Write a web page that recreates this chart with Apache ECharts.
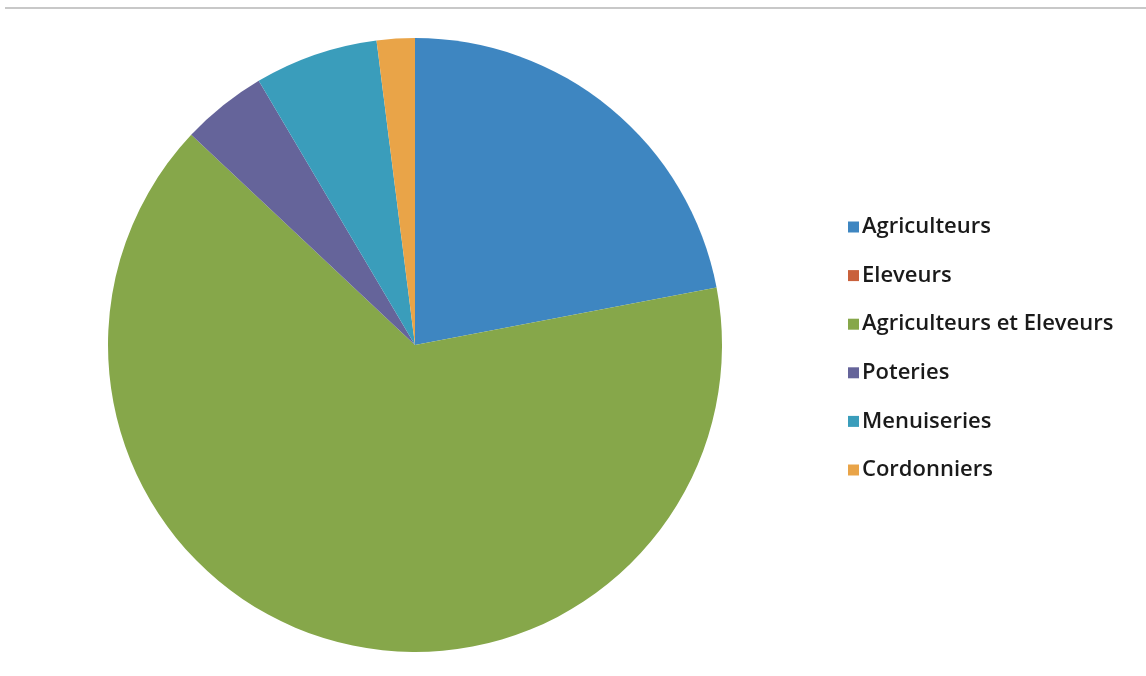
<!DOCTYPE html>
<html>
<head>
<meta charset="utf-8">
<script src="https://cdn.jsdelivr.net/npm/echarts@6/dist/echarts.min.js"></script>
<style>html,body{margin:0;padding:0;background:#fff;}#c{width:1146px;height:676px;}</style>
</head>
<body>
<div id="c"></div>
<script>
const categories = ['Agriculteurs', 'Eleveurs', 'Agriculteurs et Eleveurs', 'Poteries', 'Menuiseries', 'Cordonniers'];
const values = [22, 0, 65, 4.5, 6.5, 2];
const colors = ['#3E86C1', '#C9613C', '#86A74A', '#65649A', '#3A9DBB', '#E9A448'];

const chart = echarts.init(document.getElementById('c'));
chart.setOption({
  animation: false,
  backgroundColor: '#fff',
  graphic: [{
    type: 'rect',
    shape: { x: 5, y: 7, width: 1141, height: 2 },
    style: { fill: '#c8c8c8' }
  }],
  legend: {
    orient: 'vertical',
    left: 843,
    top: 210,
    itemWidth: 11,
    itemHeight: 11,
    itemGap: 24.6,
    icon: 'rect',
    data: categories,
    textStyle: { fontFamily: 'Open Sans', fontSize: 22, fontWeight: 600, color: '#1a1a1a', lineHeight: 24, padding: [0, 0, 0, -2] }
  },
  series: [{
    type: 'pie',
    center: [415, 345],
    radius: [0, 307],
    startAngle: 90,
    clockwise: true,
    label: { show: false },
    labelLine: { show: false },
    emphasis: { disabled: true },
    itemStyle: { borderWidth: 0 },
    data: categories.map((n, i) => ({ name: n, value: values[i], itemStyle: { color: colors[i] } }))
  }]
});
</script>
</body>
</html>
